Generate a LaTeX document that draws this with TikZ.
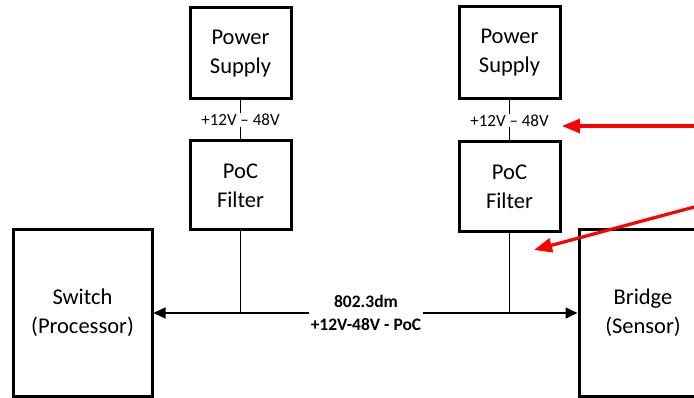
\documentclass[tikz,border=0pt]{standalone}
\usepackage{fontspec}
\setmainfont{Carlito}
\usetikzlibrary{arrows.meta}
\tikzset{
  blk/.style={draw, line width=3pt, rectangle, align=center, inner sep=0pt,
    font=\fontsize{22.5}{29}\selectfont},
  wire/.style={line width=1.5pt},
  vlabel/.style={fill=white, inner sep=1pt, font=\fontsize{17}{20}\selectfont},
  redarrow/.style={draw=red, line width=3.2pt, -{Triangle[length=18pt,width=14pt]}},
}
\begin{document}
\begin{tikzpicture}[x=1pt,y=-1pt]
\useasboundingbox (0,0) rectangle (694,398);
\clip (0,0) rectangle (694,398);
% left column
\node[blk, minimum width=101pt, minimum height=91pt] (ps1) at (240.5,53.5) {Power\\Supply};
\node[blk, minimum width=101pt, minimum height=89pt] (pf1) at (240.5,185.5) {PoC\\Filter};
% right column
\node[blk, minimum width=101pt, minimum height=92pt] (ps2) at (509.5,53) {Power\\Supply};
\node[blk, minimum width=101pt, minimum height=90pt] (pf2) at (509.5,187) {PoC\\Filter};
% end boxes
\node[blk, minimum width=139pt, minimum height=166pt] (sw) at (82.5,313) {Switch\\(Processor)};
\node[blk, minimum width=128pt, minimum height=166pt] (br) at (643,313) {Bridge\\(Sensor)};
% power wires
\draw[wire] (ps1) -- (pf1) node[vlabel, midway] (v1) {+12V -- 48V};
\draw[wire] (ps2) -- (pf2) node[vlabel, midway] (v2) {+12V -- 48V};
% main link
\draw[wire, {Triangle[length=12pt,width=11pt]}-{Triangle[length=12pt,width=11pt]}] (sw.east) -- (br.west);
\coordinate (j1) at (pf1.south |- sw.east);
\coordinate (j2) at (pf2.south |- sw.east);
\draw[wire] (pf1.south) -- (j1);
\draw[wire] (pf2.south) -- (j2);
\node[fill=white, align=center, inner sep=2pt, font=\fontsize{17.5}{23}\selectfont\bfseries] (lk) at (366,313) {802.3dm\\+12V-48V - PoC};
% red annotation arrows
\coordinate (r1s) at (698,126);
\coordinate (r1e) at (562,126);
\coordinate (r2s) at (698,206);
\coordinate (r2e) at (534,250);
\draw[redarrow] (r1s) -- (r1e);
\draw[redarrow] (r2s) -- (r2e);
\end{tikzpicture}
\end{document}
